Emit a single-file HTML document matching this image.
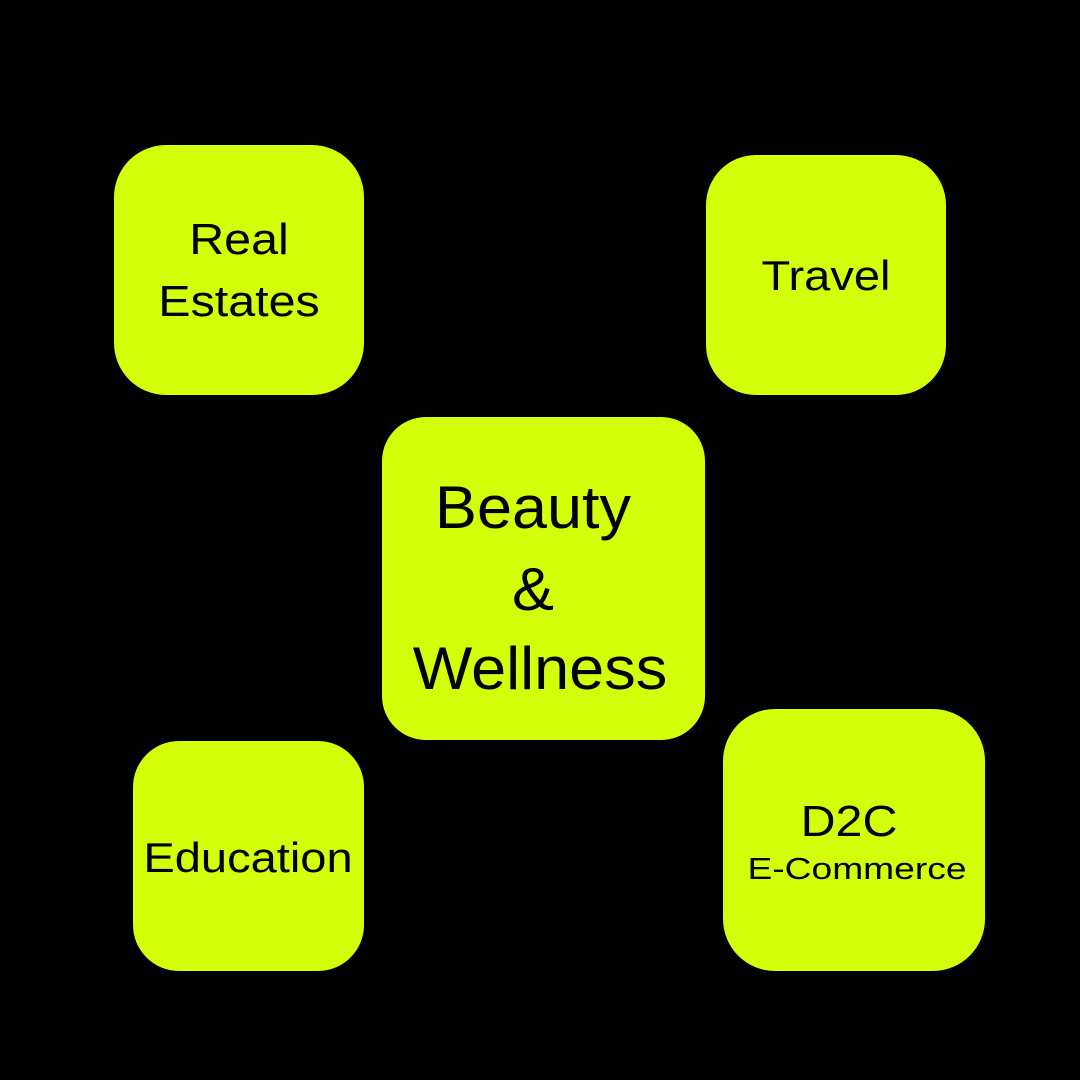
<!DOCTYPE html>
<html><head><meta charset="utf-8"><style>
html,body{margin:0;padding:0;background:#000;}
body{width:1080px;height:1080px;position:relative;overflow:hidden;font-family:"Liberation Sans",sans-serif;}
.b{position:absolute;background:#d4ff0a;}
.t{position:absolute;width:400px;text-align:center;color:#000;white-space:nowrap;line-height:1;}
</style></head><body>
<div class="b" style="left:114px;top:145px;width:250px;height:250px;border-radius:52px"></div>
<div class="b" style="left:706px;top:155px;width:240px;height:240px;border-radius:50px"></div>
<div class="b" style="left:382px;top:417px;width:323px;height:323px;border-radius:44px"></div>
<div class="b" style="left:133px;top:741px;width:231px;height:230px;border-radius:46px"></div>
<div class="b" style="left:723px;top:709px;width:262px;height:262px;border-radius:52px"></div>

<div class="t" style="left:39px;top:218px;font-size:44px;transform:scaleX(1.1)">Real</div>
<div class="t" style="left:39px;top:280px;font-size:44px;transform:scaleX(1.1)">Estates</div>
<div class="t" style="left:626px;top:255px;font-size:42px;transform:scaleX(1.12)">Travel</div>
<div class="t" style="left:333px;top:478px;font-size:60px;transform:scaleX(1.05)">Beauty</div>
<div class="t" style="left:333px;top:560px;font-size:60px;transform:scaleX(1.05)">&amp;</div>
<div class="t" style="left:340px;top:639px;font-size:60px;transform:scaleX(1.05)">Wellness</div>
<div class="t" style="left:48px;top:837px;font-size:42px;transform:scaleX(1.12)">Education</div>
<div class="t" style="left:649px;top:800px;font-size:44px;transform:scaleX(1.1)">D2C</div>
<div class="t" style="left:657px;top:853px;font-size:31px;transform:scaleX(1.2)">E-Commerce</div>
</body></html>
